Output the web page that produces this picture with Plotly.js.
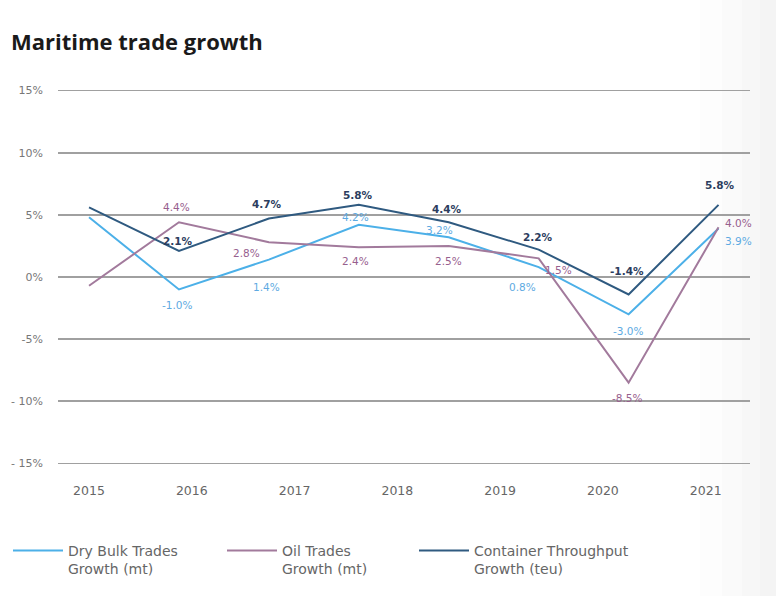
<!DOCTYPE html>
<html>
<head>
<meta charset="utf-8">
<script src="https://cdn.plot.ly/plotly-3.0.1.min.js"></script>
<style>html,body{margin:0;padding:0;background:#fff;}#chart{width:776px;height:596px;}</style>
</head>
<body>
<div id="chart"></div>
<script>
// ---- data ----
const pointIndex = [0, 1, 2, 3, 4, 5, 6, 7];
const yearLabels = ["2015", "2016", "2017", "2018", "2019", "2020", "2021"];
const dryBulk = [4.8, -1.0, 1.4, 4.2, 3.2, 0.8, -3.0, 3.9];
const oil = [-0.7, 4.4, 2.8, 2.4, 2.5, 1.5, -8.5, 4.0];
const container = [5.6, 2.1, 4.7, 5.8, 4.4, 2.2, -1.4, 5.8];
const seriesNames = ["Dry Bulk Trades<br>Growth (mt)", "Oil Trades<br>Growth (mt)", "Container Throughput<br>Growth (teu)"];
const yTickValues = [15, 10, 5, 0, -5, -10, -15];
const yTickLabels = ["15%", "10%", "5%", "0%", "-5%", "- 10%", "- 15%"];

// ---- styles / label offsets (pixels) ----
const lineColors = ["#4cb0e8", "#a27a9c", "#2f5a80"];
const labelColors = ["#5eaae2", "#97608e", "#2c3d5e"];
const labelWeights = [400, 400, 600];
const dryOff = [null, [-2, 16], [-2, 27], [-3, -8], [-9, -7], [-16, 20], [-1, 17], [20, 12]];
const oilOff = [null, [-2, -15], [-22, 11], [-3, 14], [0, 15], [20, 12], [-2, 15], [20, -4]];
const contOff = [null, [-1, -10], [-2, -15], [-1, -10], [-2, -13], [-1, -13], [-2, -23], [1, -20]];
const legendIds = ["legend", "legend2", "legend3"];
const legendLeft = [8, 222, 414];

const FONT = "DejaVu Sans, Verdana, sans-serif";
const TITLE_FONT = "Open Sans, Noto Sans, sans-serif";
const allSeries = [dryBulk, oil, container];
const allOffsets = [dryOff, oilOff, contOff];

const traces = allSeries.map((vals, s) => ({
  type: "scatter",
  mode: "lines",
  x: pointIndex,
  y: vals,
  name: seriesNames[s],
  legend: legendIds[s],
  line: {color: lineColors[s], width: 2},
  hoverinfo: "x+y"
}));

const annotations = [];
allSeries.forEach((vals, s) => {
  vals.forEach((v, i) => {
    const off = allOffsets[s][i];
    if (!off) return;
    annotations.push({
      x: pointIndex[i], y: v, xref: "x", yref: "y",
      text: v.toFixed(1) + "%",
      showarrow: false,
      xshift: off[0], yshift: -off[1],
      font: {family: FONT, size: 10.5, color: labelColors[s], weight: labelWeights[s]}
    });
  });
});

const nPts = pointIndex.length;
const tickPositions = yearLabels.map((_, j) => j * nPts / yearLabels.length);

function legendCfg(left) {
  return {
    orientation: "h",
    xref: "container", yref: "container",
    x: left / 776, xanchor: "left",
    y: 1 - 535 / 596, yanchor: "top",
    font: {family: FONT, size: 14, color: "#666"},
    itemwidth: 50,
    valign: "top",
    bgcolor: "rgba(0,0,0,0)"
  };
}

// soft grey tint on the right edge of the page
const tintStarts = [700, 722, 742, 760];
const tintColors = ["#fdfdfd", "#fafafa", "#f7f7f7", "#f4f4f4"];
const shapes = tintStarts.map((px, k) => ({
  type: "rect", xref: "paper", yref: "paper",
  x0: (px - 58) / 692, x1: 1.05, y0: -0.4, y1: 1.3,
  fillcolor: tintColors[k], line: {width: 0}, layer: "below"
}));

const layout = {
  width: 776, height: 596,
  paper_bgcolor: "#ffffff", plot_bgcolor: "rgba(0,0,0,0)",
  margin: {l: 58, r: 26, t: 88, b: 130},
  font: {family: FONT, color: "#666"},
  title: {
    text: "Maritime trade growth",
    xref: "container", yref: "container",
    x: 11 / 776, xanchor: "left",
    y: 1 - 42 / 596, yanchor: "middle",
    font: {family: TITLE_FONT, size: 22, color: "#1a1a1a", weight: 700}
  },
  xaxis: {
    range: [-0.345, 7.35],
    tickmode: "array", tickvals: tickPositions, ticktext: yearLabels,
    showgrid: false, zeroline: false, showline: false, ticks: "",
    tickfont: {family: FONT, size: 12.5, color: "#666"},
    ticklabelstandoff: 15,
    fixedrange: true
  },
  yaxis: {
    range: [-15.2, 15.2],
    tickmode: "array", tickvals: yTickValues, ticktext: yTickLabels,
    showgrid: true, gridcolor: "#a0a0a0", gridwidth: 1.7,
    zeroline: false, showline: false, ticks: "",
    tickfont: {family: FONT, size: 11, color: "#777"},
    ticklabelstandoff: 14,
    fixedrange: true
  },
  showlegend: true,
  legend: legendCfg(legendLeft[0]),
  legend2: legendCfg(legendLeft[1]),
  legend3: legendCfg(legendLeft[2]),
  shapes: shapes,
  annotations: annotations
};

Plotly.newPlot("chart", traces, layout, {displayModeBar: false, staticPlot: true});
</script>
</body>
</html>
